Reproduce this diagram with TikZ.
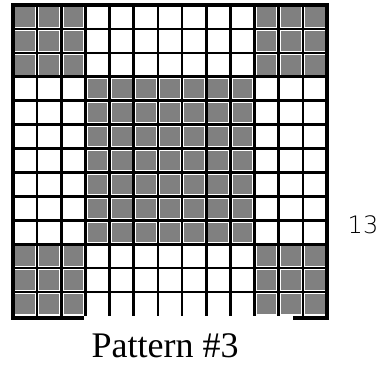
\documentclass[tikz,border=0pt]{standalone}
\usepackage{fontspec}
\setmainfont{Liberation Serif}
\newfontfamily\handfont{DejaVu Sans ExtraLight}
\begin{document}
\begin{tikzpicture}[x=1pt,y=-1pt,
  shadecell/.style={fill=black!50},
  gridline/.style={line width=2.6pt},
  borderline/.style={line width=3.2pt}]
\useasboundingbox (0,0) rectangle (382,364);
\pgfmathsetmacro{\cw}{314/13}
\pgfmathsetmacro{\ch}{311/13}
\def\xo{13}
\def\yo{5}
% shaded cells
\foreach \c/\r in {0/0,1/0,2/0,0/1,1/1,2/1,0/2,1/2,2/2,
  10/0,11/0,12/0,10/1,11/1,12/1,10/2,11/2,12/2,
  0/10,1/10,2/10,0/11,1/11,2/11,0/12,1/12,2/12,
  10/10,11/10,12/10,10/11,11/11,12/11,10/12,11/12,12/12}{
  \fill[shadecell] (\xo+\c*\cw+2.2,\yo+\r*\ch+2.2) rectangle (\xo+\c*\cw+\cw-2.2,\yo+\r*\ch+\ch-2.2);
}
\foreach \c in {3,...,9}{
  \foreach \r in {3,...,9}{
    \fill[shadecell] (\xo+\c*\cw+2.2,\yo+\r*\ch+2.2) rectangle (\xo+\c*\cw+\cw-2.2,\yo+\r*\ch+\ch-2.2);
  }
}
% grid lines
\foreach \i in {1,...,12}{
  \draw[gridline] (\xo+\i*\cw,\yo) -- (\xo+\i*\cw,\yo+311);
  \draw[gridline] (\xo,\yo+\i*\ch) -- (\xo+314,\yo+\i*\ch);
}
% border
\draw[borderline] (\xo,\yo+313) -- (\xo,\yo) -- (\xo+314,\yo) -- (\xo+314,\yo+313);
\draw[borderline] (\xo-1.6,\yo+313) -- (\xo+3*\cw-1,\yo+313);
\draw[borderline] (293,\yo+313) -- (\xo+314+1.6,\yo+313);
% labels
\node[anchor=base, font=\fontsize{36}{38}\selectfont, inner sep=0pt] (title) at (165,357) {Pattern \#3};
\node[anchor=base, font=\handfont\fontsize{24}{26}\selectfont, inner sep=0pt] (count) at (363,233) {13};
\end{tikzpicture}
\end{document}
